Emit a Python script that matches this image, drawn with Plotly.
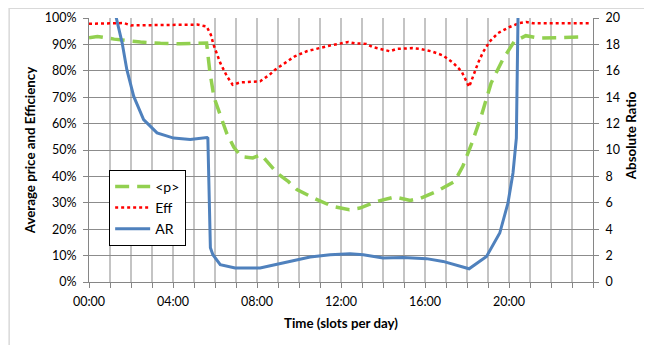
import plotly.graph_objects as go

# ---- data (hours of day) ----
p_time = [0, 0.4, 1.2, 2.45, 3.4, 4.35, 5.6, 5.75, 5.95, 6.2, 6.55, 6.9, 7.25, 7.8, 8.2,
          8.95, 9.5, 9.9, 10.7, 11.6, 12.4, 12.9, 13.7, 14.55, 15.3, 15.8, 16.55, 17.4,
          17.8, 18.25, 18.7, 19.15, 19.7, 20.25, 20.8, 21.45, 22.25, 23.05, 23.45]
p_val = [0.925, 0.93, 0.92, 0.909, 0.904, 0.902, 0.905, 0.80, 0.70, 0.645, 0.565, 0.51,
         0.475, 0.47, 0.482, 0.413, 0.38, 0.35, 0.318, 0.286, 0.274, 0.28, 0.305, 0.322,
         0.309, 0.318, 0.343, 0.38, 0.438, 0.53, 0.634, 0.754, 0.842, 0.911, 0.933, 0.924,
         0.926, 0.93, 0.928]

eff_time = [0, 1.65, 2.0, 3.0, 4.0, 5.15, 5.6, 5.8, 5.93, 6.25, 6.57, 6.84, 7.2, 7.8, 8.15,
            8.6, 8.86, 9.34, 9.8, 10.37, 10.92, 11.48, 12.08, 12.35, 12.67, 13.2, 13.5, 14.0,
            14.33, 14.65, 15.1, 15.4, 15.75, 16.3, 16.86, 17.34, 17.74, 17.98, 18.1, 18.29,
            18.53, 18.76, 19.08, 19.48, 20.03, 20.5, 20.83, 21.14, 22.0, 23.0, 23.8]
eff_val = [0.978, 0.981, 0.972, 0.973, 0.974, 0.975, 0.968, 0.937, 0.899, 0.83, 0.779,
           0.747, 0.756, 0.76, 0.76, 0.785, 0.804, 0.83, 0.855, 0.874, 0.886, 0.896, 0.905,
           0.909, 0.904, 0.902, 0.89, 0.88, 0.874, 0.883, 0.884, 0.886, 0.883, 0.874, 0.858,
           0.83, 0.798, 0.76, 0.739, 0.779, 0.83, 0.87, 0.911, 0.943, 0.966, 0.981, 0.985,
           0.98, 0.98, 0.98, 0.98]

ar_time = [0, 0.5, 1.0, 1.3, 1.58, 1.8, 2.13, 2.6, 3.24, 4.03, 4.82, 5.62, 5.66, 5.78, 5.9,
           6.25, 6.96, 7.7, 8.15, 8.63, 9.58, 10.53, 11.48, 12.43, 13.06, 14.0, 14.96, 15.75,
           16.07, 16.86, 18.1, 18.93, 19.56, 19.95, 20.19, 20.35, 20.46, 20.6]
ar_val = [32, 27, 22.5, 20.0, 18.1, 16.1, 14.06, 12.3, 11.3, 10.9, 10.8, 10.95, 10.9, 2.6,
          2.07, 1.31, 1.06, 1.06, 1.06, 1.23, 1.56, 1.89, 2.07, 2.14, 2.07, 1.82, 1.86, 1.82,
          1.77, 1.56, 1.0, 1.94, 3.71, 5.98, 8.26, 10.9, 20.5, 40]

x_tick_vals = list(range(0, 25))
x_tick_text = ["00:00", "04:00", "08:00", "12:00", "16:00", "20:00"]

FONT = "Lato"
AXIS_GRAY = "#868686"
TITLE_SIZE = 13.3

fig = go.Figure()
fig.add_trace(go.Scatter(x=p_time, y=p_val, name="<p>", mode="lines", legendgroup="a",
                         line=dict(color="#92D050", width=3.5, dash="14px,8px")))
fig.add_trace(go.Scatter(x=eff_time, y=eff_val, name="Eff", mode="lines", legendgroup="b",
                         line=dict(color="#FF0000", width=2.5, dash="dot")))
fig.add_trace(go.Scatter(x=ar_time, y=ar_val, name="AR", mode="lines", legendgroup="c",
                         yaxis="y2", line=dict(color="#4F81BD", width=3)))

ticktext_full = [x_tick_text[v // 4] if (v % 4 == 0 and v < 24) else "" for v in x_tick_vals]

# page body has an 8px default margin -> figure is 8px smaller on each side
fig.update_layout(
    width=644, height=337,
    margin=dict(l=80.5, r=58.5, t=10.3, b=62.7),
    paper_bgcolor="white", plot_bgcolor="white",
    font=dict(family=FONT, size=12.5, color="#000000"),
    showlegend=True,
    legend=dict(x=0.04, y=0.425, xanchor="left", yanchor="top",
                bgcolor="white", bordercolor="#000000", borderwidth=1, itemwidth=35,
                font=dict(family=FONT, size=14), tracegroupgap=8, traceorder="normal"),
    xaxis=dict(range=[0, 24], tickmode="array", tickvals=x_tick_vals, ticktext=ticktext_full,
               showgrid=True, gridcolor="#C4C4C4", gridwidth=2, automargin=False,
               showline=True, linecolor=AXIS_GRAY, linewidth=1,
               ticks="outside", ticklen=5, tickcolor=AXIS_GRAY, zeroline=False,
               ticklabelstandoff=3,
               title=dict(text="<b>Time (slots per day)</b>", font=dict(size=TITLE_SIZE),
                          standoff=10)),
    yaxis=dict(range=[0, 1], dtick=0.1, tickformat=".0%", showgrid=True, automargin=False,
               gridcolor="#8C8C8C", gridwidth=1, zeroline=False,
               showline=True, linecolor=AXIS_GRAY, ticks="outside", ticklen=5,
               tickcolor=AXIS_GRAY, ticklabelstandoff=4,
               title=dict(text="<b>Average price and Efficiency</b>", font=dict(size=TITLE_SIZE),
                          standoff=6)),
    yaxis2=dict(range=[0, 20], dtick=2, overlaying="y", side="right", showgrid=False,
                zeroline=False, showline=True, linecolor=AXIS_GRAY, ticks="outside",
                ticklen=5, tickcolor=AXIS_GRAY, ticklabelstandoff=4, automargin=False),
    annotations=[dict(text="<b>Absolute Ratio</b>", xref="paper", yref="paper",
                      x=(631 - 88.5) / 505, y=(282.3 - 136) / 264, textangle=-90,
                      showarrow=False, font=dict(size=TITLE_SIZE),
                      xanchor="center", yanchor="middle")],
    shapes=[dict(type="rect", xref="paper", yref="paper",
                 x0=-80 / 505, x1=(644 - 80.5 + 20) / 505,
                 y0=-80 / 264, y1=(264 + 9.8) / 264,
                 line=dict(color="#D9D9D9", width=1.5), layer="below")],
)

fig.write_html("out.html")
